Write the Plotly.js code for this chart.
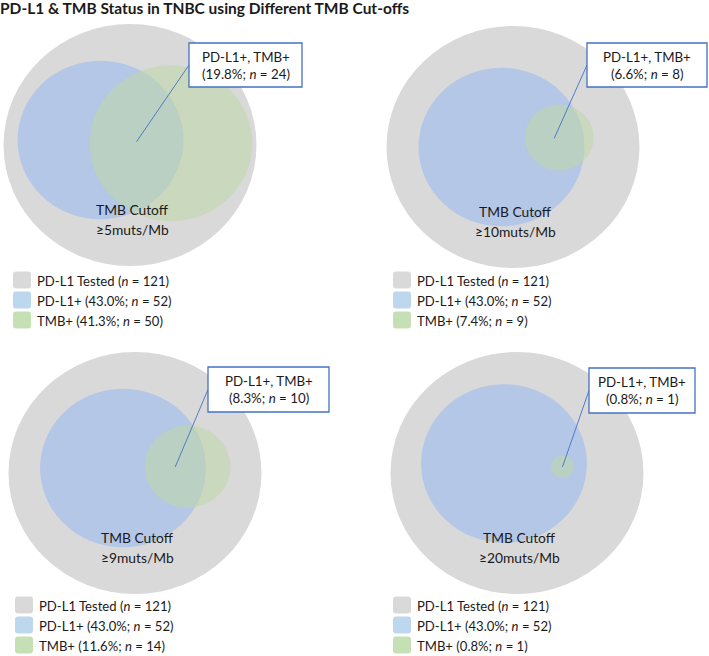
<!DOCTYPE html>
<html><head><meta charset="utf-8">
<script src="https://cdn.plot.ly/plotly-3.0.1.min.js"></script>
<style>html,body{margin:0;padding:0;background:#fff}#chart{width:709px;height:656px}</style>
</head><body><div id="chart"></div>
<script>
// ---- data ----
const cutoffLabels = ['\u22655muts/Mb', '\u226510muts/Mb', '\u22659muts/Mb', '\u226520muts/Mb'];
const testedN = [121, 121, 121, 121];
const pdl1N = [52, 52, 52, 52];
const tmbN = [50, 9, 14, 1];
const bothN = [24, 8, 10, 1];
const legendNames = ['PD-L1 Tested', 'PD-L1+', 'TMB+'];
const boxTitle = 'PD-L1+, TMB+';
const cutoffTitle = 'TMB Cutoff';
const chartTitle = 'PD-L1 & TMB Status in TNBC using Different TMB Cut-offs';

// ---- layout constants ----
const CX = [130, 513, 135, 517], CY = [145, 147, 473, 473];
const KX = 11.5, KY = 11.0;               // px per sqrt(n) unit
const BLUE_OFF = [[-29.5, -5], [-11.5, 0], [-12, -5], [-13, -9.5]];
const GREEN_ANG = [0.05, -0.17, -0.02, 0.06];
const BOX = [[189, 43, 302, 87], [587, 43, 707, 87], [208, 367, 329, 412], [589, 368, 695, 413]];
const LX = [13, 393, 15, 393], LY = [280, 280, 605, 605];
const GRAY = '#d9d9d9', BLUE = '#b4c7e7', GREEN = 'rgba(190,215,165,0.55)';
const LEG_COL = ['#d9d9d9', '#bdd7ee', '#c5e0b4'];
const LINE_COL = '#4472c4';
const FONT = 'Lato, Carlito, "Liberation Sans", sans-serif';
const TXT = '#1a1a1a';

function lens(d, r1, r2) {
  if (d >= r1 + r2) return 0;
  if (d <= Math.abs(r1 - r2)) return Math.PI * Math.min(r1, r2) ** 2;
  const a1 = r1 * r1 * Math.acos((d * d + r1 * r1 - r2 * r2) / (2 * d * r1));
  const a2 = r2 * r2 * Math.acos((d * d + r2 * r2 - r1 * r1) / (2 * d * r2));
  const t = 0.5 * Math.sqrt((-d + r1 + r2) * (d + r1 - r2) * (d - r1 + r2) * (d + r1 + r2));
  return a1 + a2 - t;
}
function solveDist(r1, r2, target) {
  const full = Math.PI * Math.min(r1, r2) ** 2;
  if (target >= full - 1e-9) return Math.abs(r1 - r2) * 0.82;
  let lo = Math.abs(r1 - r2), hi = r1 + r2;
  for (let i = 0; i < 80; i++) {
    const m = (lo + hi) / 2;
    if (lens(m, r1, r2) > target) lo = m; else hi = m;
  }
  return (lo + hi) / 2;
}
const pct = (n, t) => (100 * n / t).toFixed(1) + '%';
const ellipse = (x, y, rx, ry, fill) => ({type: 'circle', xref: 'x', yref: 'y', x0: x - rx, x1: x + rx, y0: y - ry, y1: y + ry, fillcolor: fill, line: {width: 0}, layer: 'below'});
function rrect(x, y, w, h, r) {
  return `M${x + r},${y} L${x + w - r},${y} Q${x + w},${y} ${x + w},${y + r} L${x + w},${y + h - r} Q${x + w},${y + h} ${x + w - r},${y + h} L${x + r},${y + h} Q${x},${y + h} ${x},${y + h - r} L${x},${y + r} Q${x},${y} ${x + r},${y} Z`;
}

const shapes = [], annotations = [];
const txt = (x, y, text, anchor, size) => ({xref: 'x', yref: 'y', x, y, text, showarrow: false, xanchor: anchor || 'center', yanchor: 'middle', font: {family: FONT, size: size || 14, color: TXT}});

for (let p = 0; p < 4; p++) {
  const cx = CX[p], cy = CY[p];
  const rG = Math.sqrt(testedN[p]), rB = Math.sqrt(pdl1N[p]), rT = Math.sqrt(tmbN[p]);
  shapes.push(ellipse(cx, cy, rG * KX, rG * KY, GRAY));
  const bx = cx + BLUE_OFF[p][0], by = cy + BLUE_OFF[p][1];
  shapes.push(ellipse(bx, by, rB * KX, rB * KY, BLUE));
  const d = solveDist(rB, rT, Math.PI * bothN[p]);
  const a = GREEN_ANG[p];
  const gx = bx + d * Math.cos(a) * KX, gy = by + d * Math.sin(a) * KY;
  shapes.push(ellipse(gx, gy, rT * KX, rT * KY, GREEN));
  // point inside the overlap
  let t;
  if (bothN[p] >= tmbN[p]) t = d; else t = ((d - rT) + Math.min(rB, d + rT)) / 2;
  const px = bx + t * Math.cos(a) * KX, py = by + t * Math.sin(a) * KY;
  const [x0, y0, x1, y1] = BOX[p];
  const ym = (y0 + y1) / 2;
  shapes.push({type: 'line', xref: 'x', yref: 'y', x0: x0, y0: ym, x1: px, y1: py, line: {color: LINE_COL, width: 0.9}});
  shapes.push({type: 'rect', xref: 'x', yref: 'y', x0, y0, x1, y1, fillcolor: '#ffffff', line: {color: LINE_COL, width: 1.3}});
  const xm = (x0 + x1) / 2;
  annotations.push(txt(xm, ym - 8.5, boxTitle, 'center', 13.3));
  annotations.push(txt(xm, ym + 8.5, '(' + pct(bothN[p], testedN[p]) + '; <i>n</i> = ' + bothN[p] + ')', 'center', 13.3));
  // cutoff labels
  annotations.push(txt(cx + 2, cy + 64, cutoffTitle, 'center', 13.8));
  annotations.push(txt(cx + 2, cy + 84, cutoffLabels[p], 'center', 13.8));
  // legend
  const legTexts = [
    legendNames[0] + ' (<i>n</i> = ' + testedN[p] + ')',
    legendNames[1] + ' (' + pct(pdl1N[p], testedN[p]) + '; <i>n</i> = ' + pdl1N[p] + ')',
    legendNames[2] + ' (' + pct(tmbN[p], testedN[p]) + '; <i>n</i> = ' + tmbN[p] + ')'
  ];
  for (let i = 0; i < 3; i++) {
    const yc = LY[p] + 20 * i;
    shapes.push({type: 'path', xref: 'x', yref: 'y', path: rrect(LX[p], yc - 8.5, 18, 17, 3), fillcolor: LEG_COL[i], line: {width: 0}});
    annotations.push(txt(LX[p] + 22, yc + 1, legTexts[i], 'left', 13.1));
  }
}

const layout = {
  width: 709, height: 656,
  margin: {l: 0, r: 0, t: 0, b: 0},
  paper_bgcolor: '#ffffff', plot_bgcolor: '#ffffff',
  showlegend: false,
  title: {text: '<b>' + chartTitle.replace('&', '&amp;') + '</b>', x: 0.0, xref: 'paper', xanchor: 'left', y: 1 - 9 / 656, yref: 'container', yanchor: 'middle', font: {family: FONT, size: 15.5, color: TXT}},
  xaxis: {range: [0, 709], visible: false, fixedrange: true},
  yaxis: {range: [656, 0], visible: false, fixedrange: true},
  shapes, annotations
};
Plotly.newPlot('chart', [{x: [], y: [], type: 'scatter', mode: 'markers', hoverinfo: 'skip'}], layout, {staticPlot: true, displayModeBar: false});
</script></body></html>
